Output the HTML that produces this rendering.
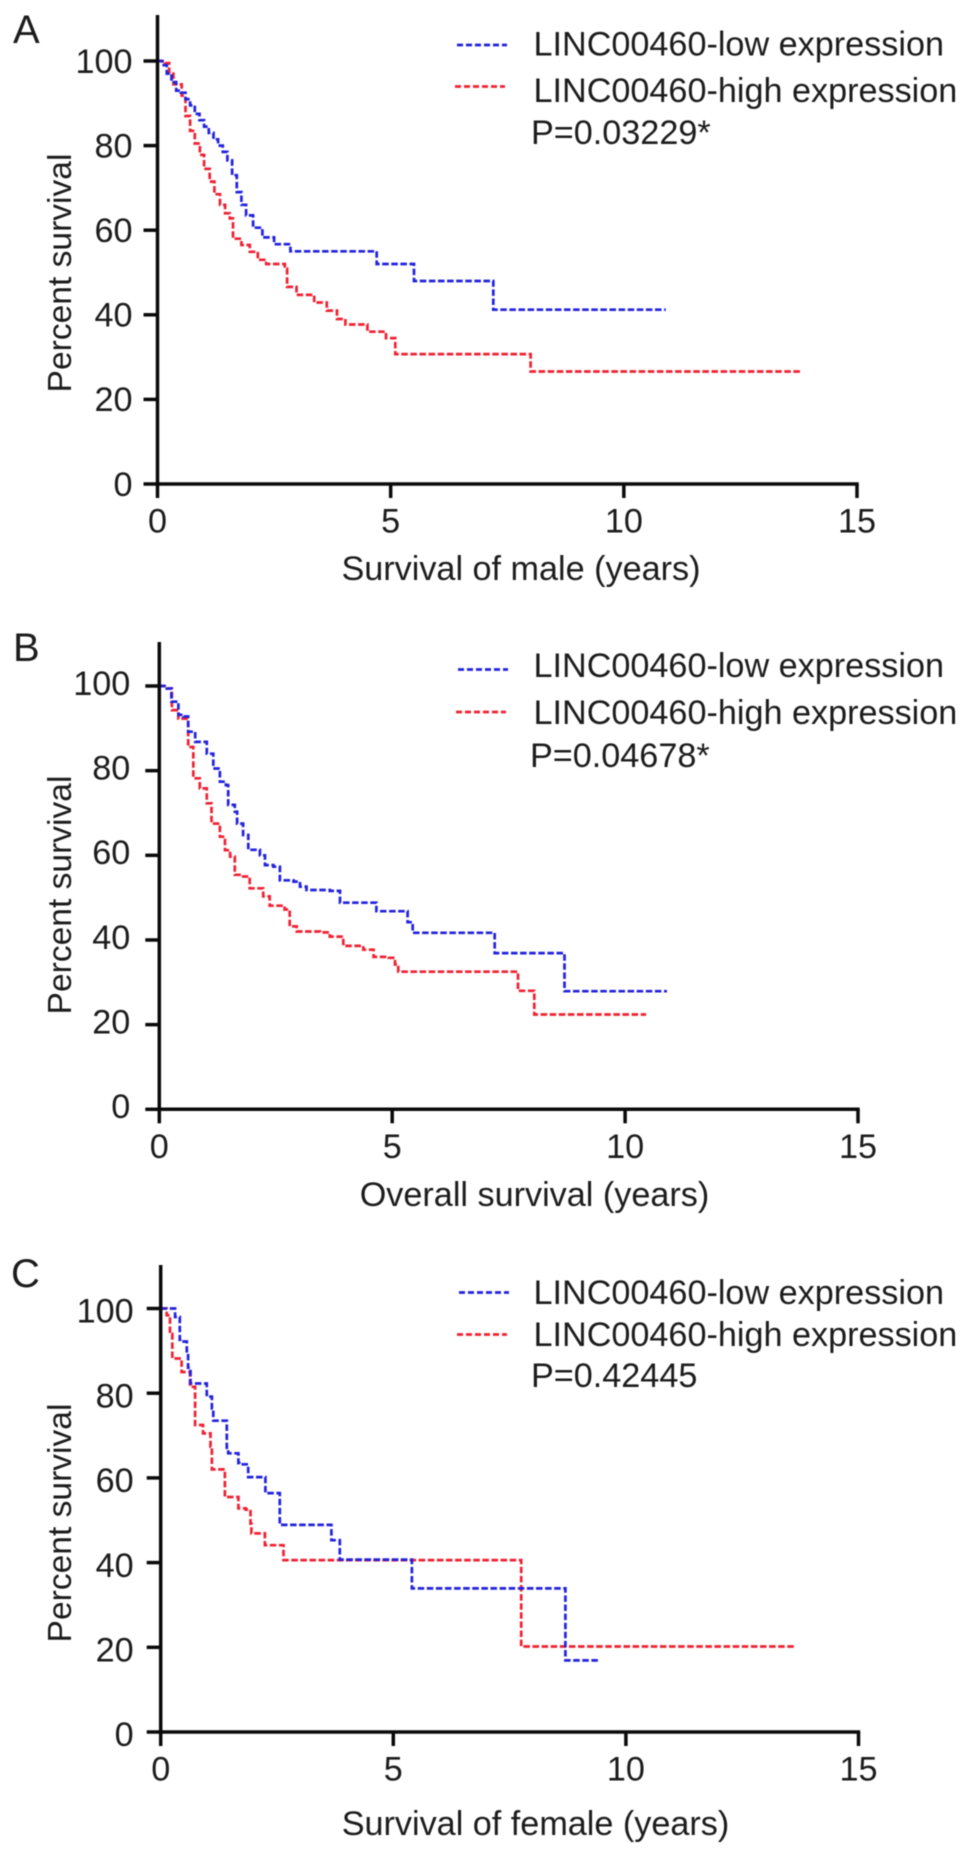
<!DOCTYPE html>
<html lang="en">
<head>
<meta charset="utf-8">
<title>LINC00460 survival curves</title>
<style>
html,body{margin:0;padding:0;background:#fff;width:969px;height:1854px;overflow:hidden}
svg{display:block;filter:blur(0.6px)}
text{font-family:"Liberation Sans",sans-serif;fill:#1c1c1c;font-size:34.2px}
.panel-letter{font-size:40px}
.y-title{font-size:33.6px}
</style>
</head>
<body>
<svg id="figure" xmlns="http://www.w3.org/2000/svg" width="969" height="1854" viewBox="0 0 969 1854">
  <g id="panel-a">
    <text class="panel-letter" x="13" y="43">A</text>
    <text class="y-title" transform="translate(71 273) rotate(-90)" text-anchor="middle">Percent survival</text>
    <text x="521" y="580" text-anchor="middle">Survival of male (years)</text>
    <line x1="457" x2="507" y1="45" y2="45" stroke="#2222dd" stroke-width="2.8" stroke-dasharray="6 3"/>
    <line x1="455" x2="505" y1="86.5" y2="86.5" stroke="#ee2233" stroke-width="2.8" stroke-dasharray="6 3"/>
    <text x="533.5" y="55.5">LINC00460-low expression</text>
    <text x="533.5" y="102">LINC00460-high expression</text>
    <text x="531" y="144">P=0.03229*</text>
  </g>
  <g id="panel-b">
    <text class="panel-letter" x="13" y="661">B</text>
    <text class="y-title" transform="translate(71 895) rotate(-90)" text-anchor="middle">Percent survival</text>
    <text x="534.5" y="1206" text-anchor="middle">Overall survival (years)</text>
    <line x1="458" x2="508" y1="669.5" y2="669.5" stroke="#2222dd" stroke-width="2.8" stroke-dasharray="6 3"/>
    <line x1="456" x2="506" y1="712" y2="712" stroke="#ee2233" stroke-width="2.8" stroke-dasharray="6 3"/>
    <text x="533.5" y="677">LINC00460-low expression</text>
    <text x="533.5" y="724">LINC00460-high expression</text>
    <text x="530" y="767">P=0.04678*</text>
  </g>
  <g id="panel-c">
    <text class="panel-letter" x="11" y="1287">C</text>
    <text class="y-title" transform="translate(71 1523) rotate(-90)" text-anchor="middle">Percent survival</text>
    <text x="535.5" y="1835" text-anchor="middle">Survival of female (years)</text>
    <line x1="459" x2="509" y1="1292.5" y2="1292.5" stroke="#2222dd" stroke-width="2.8" stroke-dasharray="6 3"/>
    <line x1="457" x2="507" y1="1334.5" y2="1334.5" stroke="#ee2233" stroke-width="2.8" stroke-dasharray="6 3"/>
    <text x="533.5" y="1304">LINC00460-low expression</text>
    <text x="533.5" y="1346">LINC00460-high expression</text>
    <text x="531" y="1387">P=0.42445</text>
  </g>
</svg>
<script>
const xTickValues = [0, 5, 10, 15];
const yTickValues = [0, 20, 40, 60, 80, 100];

const maleLowTimes = [0, 0.1, 0.2, 0.3, 0.4, 0.5, 0.6, 0.7, 0.8, 0.9, 1.0, 1.1, 1.2, 1.3, 1.4, 1.5, 1.6, 1.7, 1.8, 1.9, 2.05, 2.25, 2.5, 2.85, 4.7, 5.5, 7.2, 10.9];
const maleLowSurvival = [100, 99, 97, 95, 93, 92.5, 91, 89.5, 87.5, 86, 84.5, 83, 81.5, 80, 78.5, 76.5, 73, 69, 66, 63.5, 60.6, 58.3, 56.7, 55, 52, 48, 41.2, 41.2];
const maleHighTimes = [0, 0.16, 0.25, 0.34, 0.52, 0.6, 0.7, 0.8, 0.91, 1.0, 1.12, 1.22, 1.34, 1.45, 1.55, 1.62, 1.8, 1.98, 2.15, 2.33, 2.73, 2.78, 2.98, 3.36, 3.63, 3.85, 4.03, 4.5, 4.9, 5.1, 8.0, 13.8];
const maleHighSurvival = [100, 99.5, 97, 94.5, 91.8, 87, 83.5, 80.5, 77.8, 74.5, 71.5, 68.5, 66, 64, 62.8, 58, 56.5, 54.9, 53, 52, 50.9, 46.6, 44.7, 42.9, 41, 39, 37.7, 36, 34.5, 30.7, 26.6, 26.6];

const overallLowTimes = [0, 0.16, 0.26, 0.41, 0.52, 0.62, 0.77, 1.02, 1.16, 1.3, 1.43, 1.48, 1.62, 1.67, 1.8, 1.91, 2.16, 2.27, 2.45, 2.59, 2.88, 3.02, 3.16, 3.66, 3.88, 4.66, 5.33, 5.44, 5.53, 7.2, 8.7, 10.9];
const overallLowSurvival = [100, 99.4, 96.3, 93.2, 92.8, 89.2, 86.8, 84, 80.5, 77.4, 76.6, 71.9, 70.3, 67.5, 64.8, 61.3, 60, 57.7, 57.3, 54.1, 53.8, 52.6, 51.8, 51.6, 48.8, 46.8, 44.2, 41.7, 41.7, 36.9, 27.9, 27.9];
const overallHighTimes = [0, 0.16, 0.27, 0.41, 0.62, 0.73, 0.87, 1.02, 1.12, 1.3, 1.41, 1.52, 1.62, 1.8, 1.94, 2.23, 2.37, 2.69, 2.8, 2.95, 3.45, 3.66, 3.95, 4.38, 4.6, 4.93, 5.06, 5.13, 7.7, 8.05, 10.45];
const overallHighSurvival = [100, 99.4, 94.3, 92.3, 85.6, 78.2, 75.8, 72.3, 67.5, 64.4, 61.2, 59.7, 55.4, 55, 52.2, 50.3, 48.1, 47.2, 43.2, 42, 41.8, 40.8, 38.6, 37.7, 36, 35.8, 34.2, 32.5, 28, 22.4, 22.4];

const femaleLowTimes = [0, 0.31, 0.41, 0.45, 0.56, 0.59, 0.64, 0.99, 1.1, 1.13, 1.24, 1.42, 1.45, 1.67, 1.69, 1.88, 2.25, 2.56, 3.67, 3.85, 5.4, 8.7, 9.45];
const femaleLowSurvival = [100, 98, 92.6, 92.2, 89.4, 86, 82.3, 79.2, 76.4, 73.5, 73.5, 66.2, 65.8, 63.5, 63.2, 60.2, 56.4, 48.9, 45.3, 40.7, 33.9, 16.9, 16.9];
const femaleHighTimes = [0, 0.13, 0.2, 0.25, 0.45, 0.63, 0.74, 0.91, 1.07, 1.1, 1.31, 1.38, 1.63, 1.67, 1.83, 1.93, 1.95, 2.24, 2.64, 7.75, 13.65];
const femaleHighSurvival = [100, 98.4, 94, 88.2, 85, 81.5, 72.5, 70.5, 67.4, 62, 62, 55.5, 55.5, 52.8, 52.5, 49.2, 46.9, 44.1, 40.6, 20.2, 20.2];

const SVG_NS = 'http://www.w3.org/2000/svg';

function makeXScale(frame) {
  return function (t) { return frame.left + t * (frame.right - frame.left) / 15; };
}
function makeYScale(frame) {
  return function (s) { return frame.bottom - s * (frame.bottom - frame.y100) / 100; };
}
function stepPath(times, survival, xScale, yScale) {
  let d = 'M' + xScale(times[0]).toFixed(1) + ' ' + yScale(survival[0]).toFixed(1);
  for (let i = 1; i < times.length; i++) {
    d += 'H' + xScale(times[i]).toFixed(1);
    d += 'V' + yScale(survival[i]).toFixed(1);
  }
  return d;
}
function drawLine(parent, x1, y1, x2, y2) {
  const line = document.createElementNS(SVG_NS, 'line');
  line.setAttribute('x1', x1);
  line.setAttribute('y1', y1);
  line.setAttribute('x2', x2);
  line.setAttribute('y2', y2);
  line.setAttribute('stroke', '#0a0a0a');
  line.setAttribute('stroke-width', '3.5');
  parent.appendChild(line);
  return line;
}
function drawCurve(parent, d, color) {
  const path = document.createElementNS(SVG_NS, 'path');
  path.setAttribute('d', d);
  path.setAttribute('fill', 'none');
  path.setAttribute('stroke', color);
  path.setAttribute('stroke-width', '2.7');
  path.setAttribute('stroke-dasharray', '6.5 2.6');
  parent.appendChild(path);
  return path;
}
function drawPanel(panelId, frame, lowTimes, lowSurvival, highTimes, highSurvival) {
  const group = document.getElementById(panelId);
  const x = makeXScale(frame);
  const y = makeYScale(frame);

  const highCurve = drawCurve(group, stepPath(highTimes, highSurvival, x, y), '#ee2233');
  
  
  const lowCurve = drawCurve(group, stepPath(lowTimes, lowSurvival, x, y), '#2222dd');
  
  

  const yAxis = drawLine(group, frame.left, frame.top, frame.left, frame.bottom + 1.7);
  
  
  const xAxis = drawLine(group, frame.left - 1.7, frame.bottom, frame.right + 1.7, frame.bottom);
  
  

  yTickValues.forEach(function (v) {
    const tick = drawLine(group, frame.left - 14, y(v), frame.left, y(v));
    
    
    const label = document.createElementNS(SVG_NS, 'text');
    label.setAttribute('x', frame.left - frame.labelGap);
    label.setAttribute('y', y(v) + 11.8 + frame.labelShift);
    label.setAttribute('text-anchor', 'end');
    label.textContent = String(v);
    
    
    group.appendChild(label);
  });
  xTickValues.forEach(function (v) {
    const tick = drawLine(group, x(v), frame.bottom, x(v), frame.bottom + 14);
    
    
    const label = document.createElementNS(SVG_NS, 'text');
    label.setAttribute('x', x(v));
    label.setAttribute('y', frame.bottom + 48.5);
    label.setAttribute('text-anchor', 'middle');
    label.textContent = String(v);
    
    
    group.appendChild(label);
  });
}

drawPanel('panel-a', {left: 157.5, right: 857, top: 15, bottom: 484, y100: 61, labelGap: 25, labelShift: 0}, maleLowTimes, maleLowSurvival, maleHighTimes, maleHighSurvival);
drawPanel('panel-b', {left: 159.3, right: 858, top: 642, bottom: 1109.3, y100: 686, labelGap: 29, labelShift: -3}, overallLowTimes, overallLowSurvival, overallHighTimes, overallHighSurvival);
drawPanel('panel-c', {left: 160.7, right: 858.5, top: 1265, bottom: 1732, y100: 1308.5, labelGap: 27, labelShift: 2.4}, femaleLowTimes, femaleLowSurvival, femaleHighTimes, femaleHighSurvival);
</script>
</body>
</html>
